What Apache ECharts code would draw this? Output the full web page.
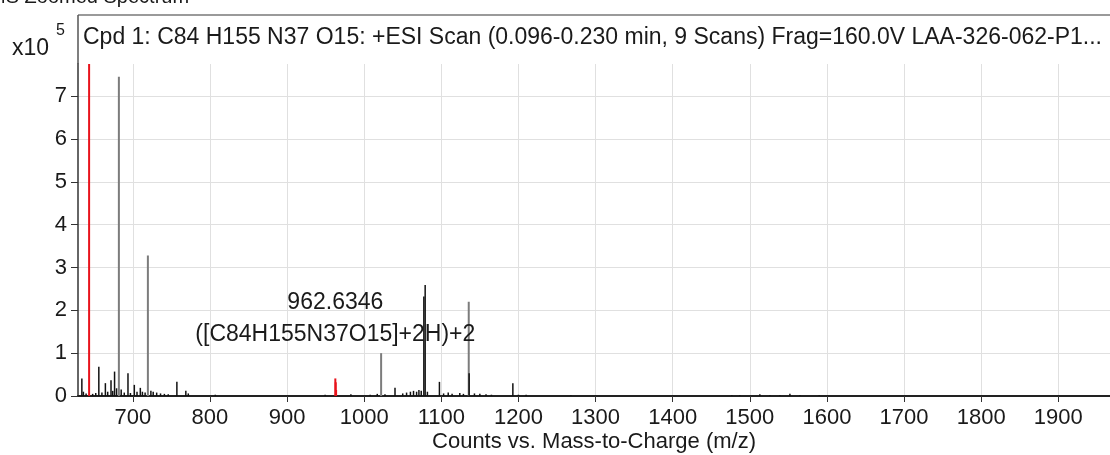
<!DOCTYPE html>
<html>
<head>
<meta charset="utf-8">
<script src="https://cdn.jsdelivr.net/npm/echarts@6/dist/echarts.min.js"></script>
<style>
  html, body { margin: 0; padding: 0; background: #fff; }
  #chart { width: 1110px; height: 455px; }
</style>
</head>
<body>
<div id="chart"></div>
<script>
// Spectrum peaks: [m/z, counts x10^5]
const matchedPeaks = [
  [643.4, 7.75],
  [962.6346, 0.41],
  [963.13, 0.32],
  [963.63, 0.14]
];
const strongPeaks = [
  [682.0, 7.45],
  [719.6, 3.28],
  [1022.0, 1.0],
  [1135.6, 2.2]
];
const minorPeaks = [
  [634.0, 0.41], [636.0, 0.1], [639.5, 0.06], [648.0, 0.05], [652.0, 0.07],
  [656.0, 0.68], [660.0, 0.08], [664.5, 0.3], [667.5, 0.1], [671.8, 0.37],
  [674.0, 0.12], [676.4, 0.57], [679.0, 0.18], [685.0, 0.15], [689.0, 0.08],
  [693.8, 0.53], [697.0, 0.07], [702.0, 0.26], [705.5, 0.1], [709.8, 0.19],
  [712.5, 0.1], [716.0, 0.08], [723.5, 0.12], [726.5, 0.1], [731.0, 0.08],
  [736.0, 0.06], [741.0, 0.05], [746.0, 0.04], [757.2, 0.33], [768.8, 0.12],
  [772.0, 0.06], [807.0, 0.03], [949.4, 0.03], [982.8, 0.04], [1007.8, 0.03],
  [1017.0, 0.05], [1027.0, 0.04], [1040.0, 0.19], [1050.0, 0.06], [1055.0, 0.08],
  [1060.0, 0.1], [1064.0, 0.12], [1068.0, 0.1], [1071.0, 0.14], [1074.0, 0.12],
  [1077.4, 2.32], [1079.1, 2.59], [1082.0, 0.1], [1097.6, 0.33], [1103.0, 0.06],
  [1109.0, 0.08], [1114.0, 0.05], [1124.0, 0.07], [1128.7, 0.05], [1136.1, 0.53],
  [1143.0, 0.06], [1150.0, 0.05], [1158.0, 0.04], [1165.0, 0.03], [1192.8, 0.3],
  [1200.0, 0.03], [1210.0, 0.03], [1268.0, 0.02], [1476.7, 0.02], [1487.0, 0.02],
  [1513.0, 0.04], [1526.0, 0.02], [1539.0, 0.02], [1552.0, 0.05], [1565.0, 0.02],
  [1590.0, 0.02]
];
const xTicks = [700, 800, 900, 1000, 1100, 1200, 1300, 1400, 1500, 1600, 1700, 1800, 1900];
const yTicks = [0, 1, 2, 3, 4, 5, 6, 7];
const peakLabel = ['962.6346', '([C84H155N37O15]+2H)+2'];
const titleText = 'Cpd 1: C84 H155 N37 O15: +ESI Scan (0.096-0.230 min, 9 Scans) Frag=160.0V LAA-326-062-P1...';

const FONT = '"Liberation Sans", Arial, sans-serif';
const TEXT = '#1a1a1a';

// Each peak is a vertical stick from the baseline up to its intensity
function stick(color, width) {
  return function (params, api) {
    const top = api.coord([api.value(0), api.value(1)]);
    const base = api.coord([api.value(0), 0]);
    return {
      type: 'line',
      shape: { x1: top[0], y1: top[1], x2: base[0], y2: base[1] },
      style: { stroke: color, lineWidth: width }
    };
  };
}

const chart = echarts.init(document.getElementById('chart'), null, { renderer: 'canvas' });
chart.setOption({
  animation: false,
  backgroundColor: '#ffffff',
  grid: { left: 78, right: 0, top: 64, bottom: 59, containLabel: false, outerBoundsMode: 'none' },
  xAxis: {
    type: 'value',
    min: 629,
    max: 1967,
    name: 'Counts vs. Mass-to-Charge (m/z)',
    nameLocation: 'middle',
    nameGap: 35,
    nameMoveOverlap: false,
    nameTextStyle: { color: TEXT, fontFamily: FONT, fontSize: 22 },
    axisLine: { show: true, lineStyle: { color: '#222', width: 2 } },
    axisTick: { show: true, length: 6, customValues: xTicks, lineStyle: { color: '#333' } },
    axisLabel: { customValues: xTicks, color: TEXT, fontFamily: FONT, fontSize: 22, margin: 11,
      formatter: v => String(v) },
    splitLine: { show: true, lineStyle: { color: '#e0e0e0', width: 1 } }
  },
  yAxis: {
    type: 'value',
    min: 0,
    max: 7.75,
    axisLine: { show: true, lineStyle: { color: '#333', width: 1.5 } },
    axisTick: { show: true, length: 7, customValues: yTicks, lineStyle: { color: '#333' } },
    axisLabel: { customValues: yTicks, color: TEXT, fontFamily: FONT, fontSize: 22, margin: 11,
      formatter: v => String(v) },
    splitLine: { show: true, lineStyle: { color: '#e0e0e0', width: 1 } }
  },
  graphic: [
    { type: 'line', shape: { x1: 78, y1: 15, x2: 1110, y2: 15 }, style: { stroke: '#9a9a9a', lineWidth: 2 } },
    { type: 'line', shape: { x1: 78, y1: 15, x2: 78, y2: 64 }, style: { stroke: '#555', lineWidth: 1.5 } },
    { type: 'text', left: -11, top: -13, style: { text: 'MS Zoomed Spectrum', font: '20px ' + FONT, fill: TEXT } },
    { type: 'text', left: 83, top: 26, style: { text: titleText, font: '23px ' + FONT, fill: TEXT } },
    { type: 'text', left: 12, top: 37, style: { text: 'x10', font: '23px ' + FONT, fill: TEXT } },
    { type: 'text', left: 56, top: 23, style: { text: '5', font: '16px ' + FONT, fill: TEXT } }
  ],
  series: [
    { type: 'custom', data: minorPeaks, renderItem: stick('#111111', 1.5), clip: true, z: 3 },
    { type: 'custom', data: strongPeaks, renderItem: stick('#7c7c7c', 2), clip: true, z: 2 },
    { type: 'custom', data: matchedPeaks, renderItem: stick('#e8131b', 2), clip: true, z: 4 },
    {
      type: 'scatter',
      data: [matchedPeaks[1]],
      symbolSize: 0,
      silent: true,
      itemStyle: { opacity: 1 },
      label: {
        show: true,
        position: 'top',
        distance: 28,
        formatter: peakLabel.join('\n'),
        color: TEXT,
        fontFamily: FONT,
        fontSize: 23,
        lineHeight: 32,
        align: 'center'
      },
      z: 5
    }
  ]
});
</script>
</body>
</html>
